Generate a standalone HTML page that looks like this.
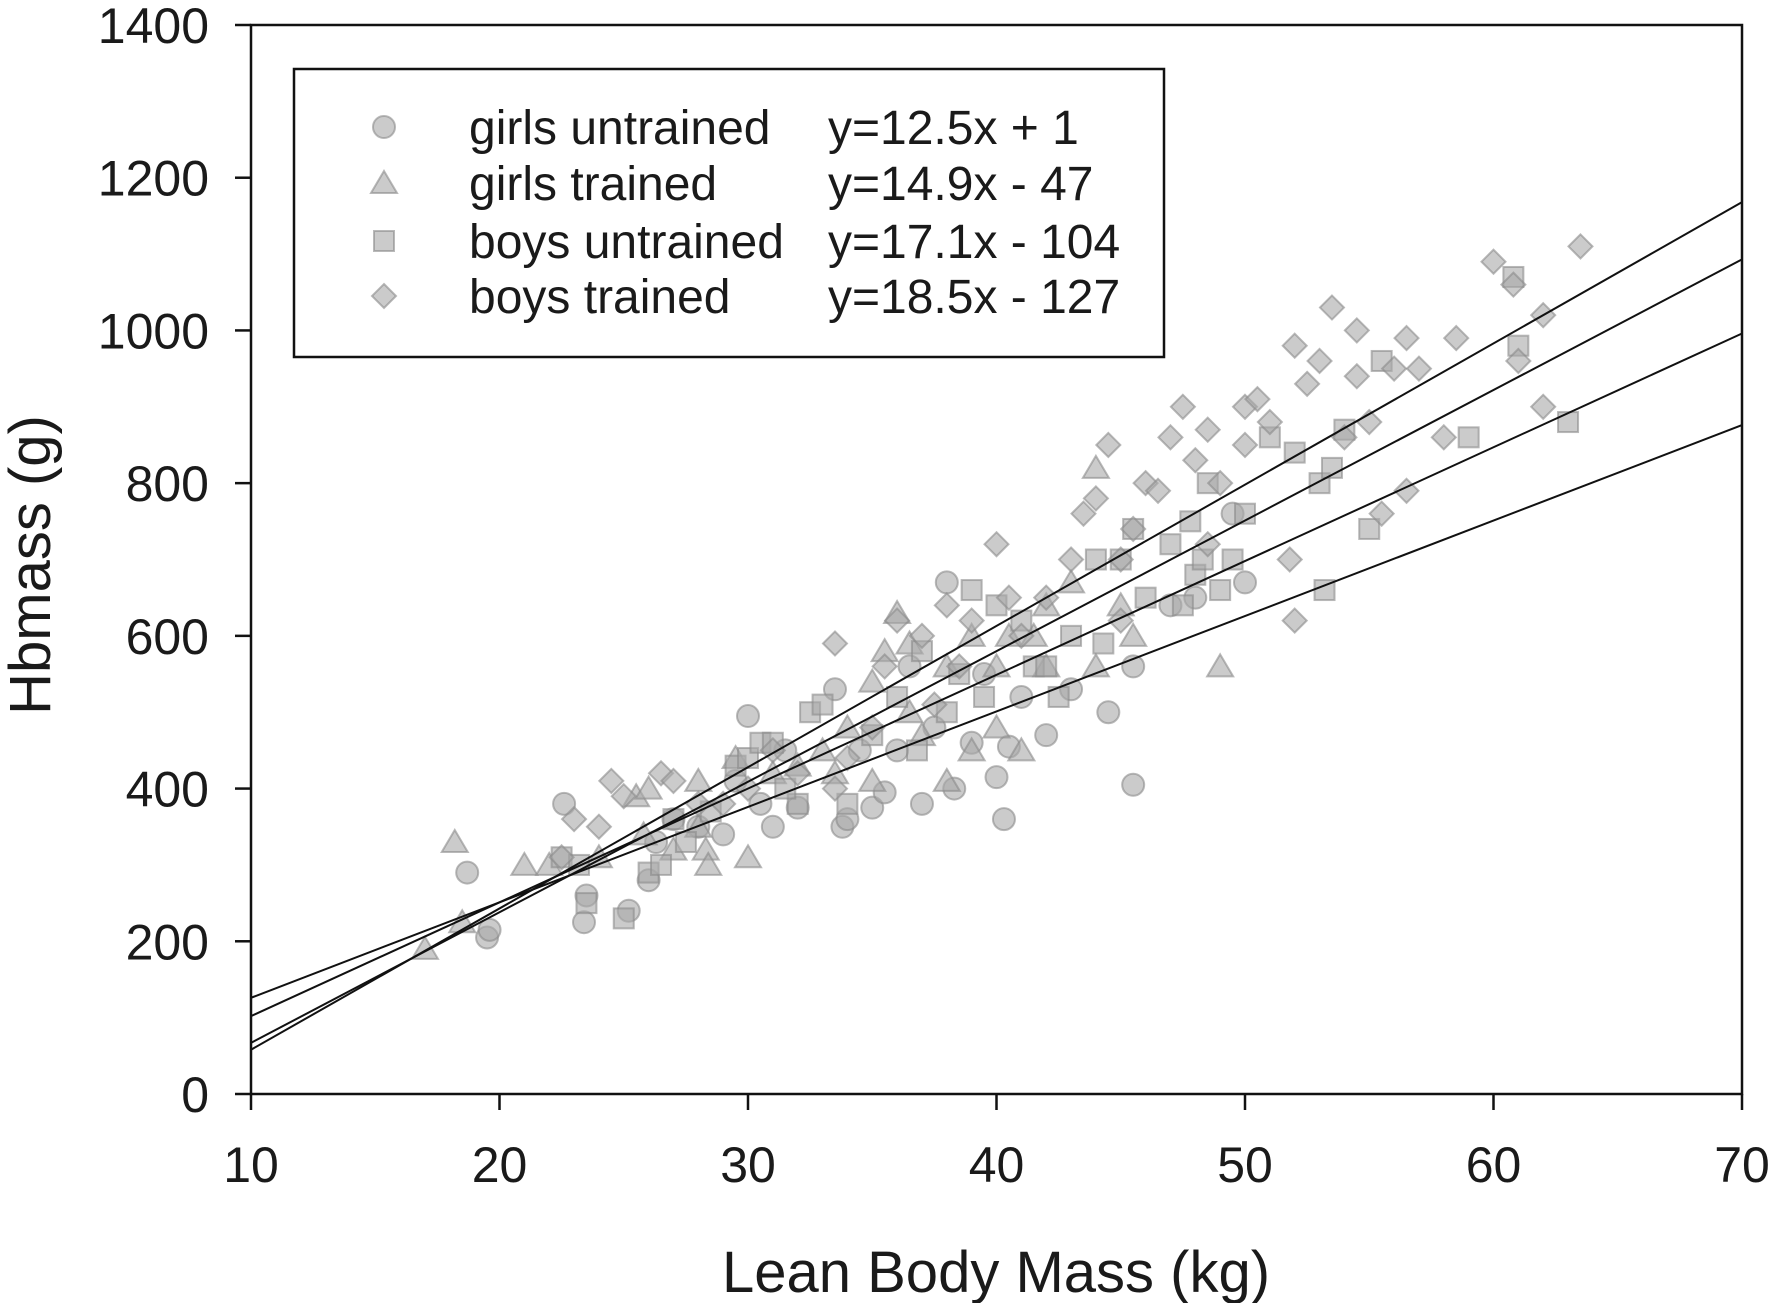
<!DOCTYPE html>
<html><head><meta charset="utf-8"><style>
html,body{margin:0;padding:0;background:#fff;}
svg{display:block;font-family:"Liberation Sans",Arial,sans-serif;}
</style></head><body>
<svg id="chart" width="1772" height="1303" viewBox="0 0 1772 1303" xmlns="http://www.w3.org/2000/svg">
<g id="points"></g>
<g id="lines"></g>
<g id="axes"></g>
<text transform="translate(50,565) rotate(-90)" text-anchor="middle" font-size="58" fill="#1a1a1a">Hbmass (g)</text>
<text x="996" y="1292" text-anchor="middle" font-size="58" fill="#1a1a1a">Lean Body Mass (kg)</text>
<g id="legend"></g>
</svg>
<script>
const xTicks=[10,20,30,40,50,60,70];
const yTicks=[0,200,400,600,800,1000,1200,1400];
const groupNames=["girls untrained","girls trained","boys untrained","boys trained"];
const slopes=[12.5,14.9,17.1,18.5];
const intercepts=[1,-47,-104,-127];
const equations=["y=12.5x + 1","y=14.9x - 47","y=17.1x - 104","y=18.5x - 127"];
const girlsUntrained=[[18.7,290],[19.5,205],[19.6,215],[22.6,380],[23.4,225],[23.5,260],[25.2,240],[26,280],[26.3,330],[28,350],[29,340],[30,495],[30.5,380],[31,350],[32,375],[33.5,530],[33.8,350],[34,360],[35,375],[35.5,395],[36,450],[37,380],[38,670],[38.3,400],[39,460],[40,415],[40.3,360],[40.5,455],[41,520],[42,470],[43,530],[44.5,500],[45.5,560],[45.5,405],[47,640],[48,650],[50,670],[49.5,760],[36.5,560],[39.5,550],[31.5,450],[34.5,450],[27,360],[29.5,410],[37.5,480]];
const girlsTrained=[[17,190],[18.2,330],[18.5,225],[21,300],[22,300],[24,310],[25.5,390],[25.8,340],[27,320],[28,410],[28,350],[28.3,320],[28.4,300],[30,310],[31,420],[32,430],[33,450],[34,480],[35,540],[35,410],[35.5,580],[36,630],[36.5,500],[37,470],[38,560],[38,410],[39,600],[39,450],[40,560],[40.5,600],[41,450],[41.5,600],[42,640],[42,560],[43,670],[44,820],[44,560],[45,640],[45.5,600],[49,560],[26,400],[29.5,440],[33.5,420],[36.5,590],[40,480]];
const boysUntrained=[[22.5,310],[23.2,300],[23.5,250],[25,230],[26,290],[26.5,300],[27.5,330],[28.5,370],[29.5,430],[30,440],[30.5,460],[31,460],[32,380],[32.5,500],[33,510],[34,380],[35,470],[36,520],[37,580],[38,500],[38.5,550],[39,660],[39.5,520],[40,640],[41,620],[41.5,560],[42,560],[42.5,520],[43,600],[44,700],[45,700],[45.5,740],[46,650],[47,720],[47.5,640],[48,680],[48.3,700],[48.5,800],[49,660],[49.5,700],[50,760],[51,860],[52,840],[53,800],[53.5,820],[54,870],[55,740],[55.5,960],[59,860],[60.8,1070],[61,980],[63,880],[53.2,660],[47.8,750],[44.3,590],[36.8,450],[31.5,400],[27,360]];
const boysTrained=[[22.5,310],[23,360],[24,350],[24.5,410],[25,390],[26.5,420],[27,410],[28,380],[29,380],[30,400],[31,450],[32,420],[33.5,590],[34,440],[35,480],[35.5,560],[36,620],[37,600],[38,640],[38.5,560],[39,620],[40,720],[40.5,650],[41,600],[42,650],[43,700],[43.5,760],[44,780],[44.5,850],[45,700],[45.5,740],[46,800],[46.5,790],[47,860],[47.5,900],[48,830],[48.5,870],[49,800],[50,900],[50.5,910],[51,880],[52,980],[52.5,930],[53,960],[53.5,1030],[54,860],[54.5,940],[55,880],[56,950],[56.5,990],[57,950],[58,860],[58.5,990],[60,1090],[60.8,1060],[61,960],[62,1020],[63.5,1110],[62,900],[54.5,1000],[55.5,760],[52,620],[51.8,700],[56.5,790],[45,620],[37.5,510],[33.5,400],[48.5,720],[50,850]];

const NS="http://www.w3.org/2000/svg";
const X0=251,X1=1742,Y0=1094,Y1=25;
const xs=v=>X0+(v-10)/60*(X1-X0);
const ys=v=>Y0-v/1400*(Y0-Y1);
function mk(tag,attrs,parent){const e=document.createElementNS(NS,tag);for(const k in attrs)e.setAttribute(k,attrs[k]);parent.appendChild(e);return e;}
function marker(type,cx,cy,parent){
  const st={fill:"#a8a8a8","fill-opacity":"0.6",stroke:"#8a8a8a","stroke-opacity":"0.6","stroke-width":"2"};
  let e;
  if(type===0){e=mk("circle",Object.assign({cx:cx,cy:cy,r:11},st),parent);}
  else if(type===1){e=mk("polygon",Object.assign({points:`${cx},${cy-12} ${cx+13},${cy+10} ${cx-13},${cy+10}`},st),parent);}
  else if(type===2){e=mk("rect",Object.assign({x:cx-10,y:cy-10,width:20,height:20},st),parent);}
  else {e=mk("polygon",Object.assign({points:`${cx},${cy-12} ${cx+12},${cy} ${cx},${cy+12} ${cx-12},${cy}`},st),parent);}
  return e;
}
const pts=document.getElementById('points');
const groups=[girlsUntrained,girlsTrained,boysUntrained,boysTrained];
const gnames=['girls-untrained','girls-trained','boys-untrained','boys-trained'];
groups.forEach((g,gi)=>{
  g.forEach(p=>{
    const e=marker(gi,xs(p[0]),ys(p[1]),pts);
    
    
  });
});
const ln=document.getElementById('lines');
slopes.forEach((s,i)=>{
  const e=mk("line",{x1:xs(10),y1:ys(s*10+intercepts[i]),x2:xs(70),y2:ys(s*70+intercepts[i]),stroke:"#111","stroke-width":"2"},ln);
  
  
});
const ax=document.getElementById('axes');
mk("rect",{x:X0,y:Y1,width:X1-X0,height:Y0-Y1,fill:"none",stroke:"#111","stroke-width":"2.5"},ax);
xTicks.forEach(t=>{
  mk("line",{x1:xs(t),y1:Y0,x2:xs(t),y2:Y0+16,stroke:"#111","stroke-width":"2.5"},ax);
  const e=mk("text",{x:xs(t),y:Y0+88,"text-anchor":"middle","font-size":"50",fill:"#1a1a1a"},ax);
  e.textContent=t;
  
  
});
yTicks.forEach(t=>{
  mk("line",{x1:X0-16,y1:ys(t),x2:X0,y2:ys(t),stroke:"#111","stroke-width":"2.5"},ax);
  const e=mk("text",{x:209,y:ys(t)+18,"text-anchor":"end","font-size":"50",fill:"#1a1a1a"},ax);
  e.textContent=t;
  
  
});
const lg=document.getElementById('legend');
mk("rect",{x:294,y:69,width:870,height:288,fill:"#fff",stroke:"#111","stroke-width":"2.5"},lg);
const rowY=[127,183,241,296];
groupNames.forEach((n,i)=>{
  const m=marker(i,384,rowY[i],lg);
  
  
  const t=mk("text",{x:469,y:rowY[i]+17,"font-size":"48",fill:"#1a1a1a"},lg);
  t.textContent=n;
  
  
  const q=mk("text",{x:828,y:rowY[i]+17,"font-size":"48",fill:"#1a1a1a"},lg);
  q.textContent=equations[i];
  
  
});
</script>
</body></html>
